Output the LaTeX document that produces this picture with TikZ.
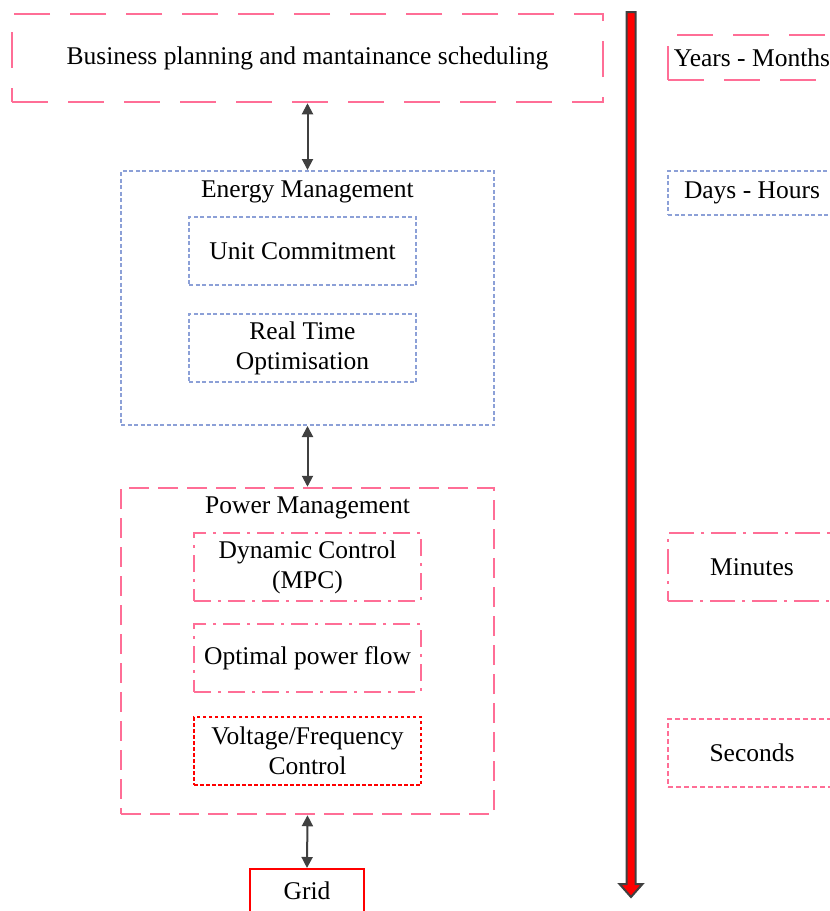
\documentclass[tikz,border=0pt]{standalone}
\usepackage{fontspec}
\setmainfont{Liberation Serif}
\usetikzlibrary{arrows.meta,positioning}
\definecolor{pinkline}{RGB}{255,110,150}
\definecolor{blueline}{RGB}{140,160,215}
\definecolor{arrgray}{RGB}{64,64,64}

\begin{document}
\begin{tikzpicture}[x=1pt,y=-1pt,font=\fontsize{25.5}{30}\selectfont]
\tikzstyle{box}=[rectangle,inner sep=0pt,align=center]
\tikzstyle{pinklong}=[box,draw=pinkline,line width=2.5pt,dash pattern=on 36pt off 20pt]
\tikzstyle{pinkdash}=[box,draw=pinkline,line width=2.5pt,dash pattern=on 20pt off 9pt]
\tikzstyle{bluedot}=[box,draw=blueline,line width=2pt,dash pattern=on 4pt off 2.5pt]
\tikzstyle{pinkdd}=[box,draw=pinkline,line width=2.5pt,dash pattern=on 17pt off 7pt on 3pt off 7pt]
\tikzstyle{pinkddl}=[box,draw=pinkline,line width=2.5pt,dash pattern=on 25pt off 7pt on 3pt off 7pt]
\tikzstyle{pinkdot}=[box,draw=pinkline,line width=2pt,dash pattern=on 5pt off 3pt]
\tikzstyle{reddot}=[box,draw=red,line width=2pt,dash pattern=on 3.5pt off 2.5pt]
\tikzstyle{inbox}=[minimum width=227pt,minimum height=68pt]
\tikzstyle{scalebox}=[minimum width=168pt]
\tikzstyle{dblarr}=[{Triangle[length=11pt,width=11pt]}-{Triangle[length=11pt,width=11pt]},draw=arrgray,line width=2pt]
\useasboundingbox (0,0) rectangle (830,911);
\clip (0,0) rectangle (830,911);
% planning levels
\node (bp) [pinklong,minimum width=591pt,minimum height=88pt] at (307.5,58) {Business planning and mantainance scheduling};
\node (em) [bluedot,minimum width=373pt,minimum height=254pt] at (307.5,298) {};
\node (emt) [box,below=11pt of em.north] {Energy Management};
\node (uc) [bluedot,inbox] at (302.5,251) {Unit Commitment};
\node (rto) [bluedot,inbox] at (302.5,348) {Real Time\\Optimisation};
\node (pm) [pinkdash,minimum width=373pt,minimum height=326pt] at (307.5,651) {};
\node (pmt) [box,below=10pt of pm.north] {Power Management};
\node (dc) [pinkdd,inbox] at (307.5,567) {Dynamic Control\\(MPC)};
\node (opf) [pinkdd,inbox] at (307.5,658) {Optimal power flow};
\node (vf) [reddot,inbox] at (307.5,751) {Voltage/Frequency\\Control};
\node (grid) [box,draw=red,line width=2pt,minimum width=114pt,minimum height=50pt] at (307,894) {};
\node (gridt) [box] at (307,891) {Grid};
\draw [dblarr] (bp.south) -- (em.north);
\draw [dblarr] (em.south) -- (pm.north);
\draw [dblarr] (pm.south) -- (grid.north);
% time scale
\node (ym) [pinklong,scalebox,minimum height=45pt] at (752,57.5) {Years - Months};
\node (dh) [bluedot,scalebox,minimum height=44pt] at (752,193) {Days - Hours};
\node (min) [pinkddl,scalebox,minimum height=68pt] at (752,567) {Minutes};
\node (sec) [pinkdot,scalebox,minimum height=68pt] at (752,753) {Seconds};
\coordinate (tt) at (631,12);
\coordinate (tb) at (631,897);
\draw [arrgray,line width=2pt,fill=red,line join=miter]
  ([xshift=-4.5pt]tt) -- ([xshift=4.5pt]tt) -- ([xshift=4.5pt,yshift=13pt]tb)
  -- ([xshift=11.5pt,yshift=13pt]tb) -- (tb) -- ([xshift=-11.5pt,yshift=13pt]tb)
  -- ([xshift=-4.5pt,yshift=13pt]tb) -- cycle;
\end{tikzpicture}
\end{document}
